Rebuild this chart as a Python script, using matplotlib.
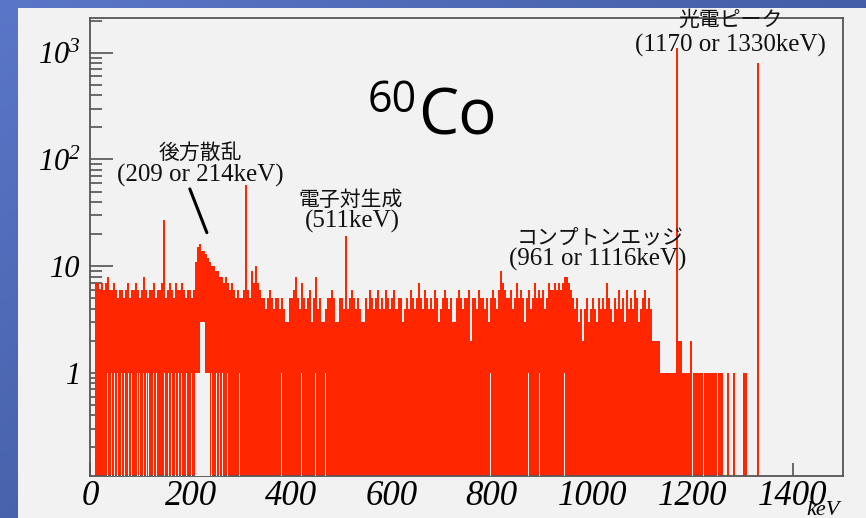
import numpy as np
import matplotlib
matplotlib.use('Agg')
import matplotlib.pyplot as plt
from matplotlib.patches import Rectangle
from matplotlib.ticker import LogLocator, NullFormatter, NullLocator

plt.rcParams['mathtext.fontset'] = 'custom'
plt.rcParams['mathtext.rm'] = 'Liberation Serif:italic'
plt.rcParams['mathtext.it'] = 'Liberation Serif:italic'

BIN_WIDTH = 4  # keV per bin

# counts per 4 keV bin, 0 - 208 keV
counts_low = [0, 0, 7, 7, 6, 7, 6, 7, 8, 6,
              6, 7, 6, 5, 6, 6, 5, 6, 7, 5,
              6, 6, 7, 6, 5, 6, 8, 6, 5, 6,
              6, 7, 5, 6, 6, 7, 27, 5, 6, 7,
              6, 5, 7, 6, 6, 7, 6, 5, 6, 6,
              5, 6]
# 208 - 300 keV (backscatter bump)
counts_backscatter = [11, 15, 16, 14, 14, 13, 12, 11, 10, 10,
                      9, 9, 8, 8, 7, 8, 7, 6, 7, 6,
                      5, 6, 5]
# 300 - 940 keV (Compton continuum)
counts_continuum = [5, 6, 58, 6, 5, 9, 7, 10, 7, 6,
                    5, 5, 4, 5, 6, 5, 4, 5, 5, 4,
                    5, 4, 3, 3, 5, 5, 6, 8, 5, 4,
                    7, 5, 4, 5, 6, 3, 5, 8, 4, 5,
                    3, 3, 4, 5, 5, 6, 5, 3, 3, 5,
                    5, 4, 19, 4, 5, 6, 5, 4, 5, 4,
                    3, 3, 5, 4, 6, 5, 4, 5, 6, 4,
                    5, 4, 6, 5, 4, 5, 6, 4, 5, 5,
                    3, 4, 5, 4, 6, 5, 4, 5, 7, 5,
                    4, 6, 5, 4, 5, 4, 6, 5, 3, 4,
                    5, 6, 5, 4, 5, 3, 3, 5, 6, 5,
                    4, 5, 5, 6, 2, 5, 5, 4, 6, 5,
                    5, 4, 5, 3, 5, 6, 5, 4, 6, 9,
                    7, 6, 5, 5, 6, 4, 5, 7, 5, 6,
                    5, 3, 5, 6, 4, 5, 7, 5, 6, 5,
                    6, 4, 5, 7, 6, 6, 7, 6, 7, 6]
# 940 - 1136 keV (Compton edge)
counts_edge = [7, 8, 8, 7, 6, 5, 4, 5, 3, 4,
               2, 4, 5, 3, 4, 5, 4, 3, 5, 4,
               5, 4, 7, 5, 4, 3, 5, 4, 6, 4,
               5, 3, 6, 4, 5, 4, 6, 5, 3, 4,
               5, 6, 4, 5, 4, 2, 2, 2, 2]
# 1136 - 1336 keV (photopeaks)
counts_tail = [1, 1, 1, 1, 1, 1, 1, 1, 1110, 2,
               2, 1, 1, 1, 1, 2, 1, 1, 1, 1,
               1, 1, 1, 1, 1, 1, 1, 1, 1, 1,
               1, 0, 0, 1, 0, 0, 1, 0, 0, 0,
               0, 1, 1, 0, 0, 0, 0, 0, 800, 0]

# single empty channels (keV)
empty_keV = [15, 25, 34, 42, 47, 54, 62, 68, 76, 82, 93, 98, 105, 111, 116,
             125, 131, 148, 155, 161, 169, 175, 181, 191, 201,
             242, 251, 258, 264, 273, 288, 297, 306,
             381, 421, 449, 468, 798, 873, 895, 940, 945,
             1191, 1200, 1207, 1215, 1222, 1227, 1233, 1243, 1249]
# empty stretch under the backscatter bump
notch_lo = [209, 218]
notch_hi = [238, 229]
notch_top = [1, 3]

x_ticks = [0, 200, 400, 600, 800, 1000, 1200, 1400]
y_ticks = [1, 10, 100, 1000]
y_labels = ['1', '10', r'$\mathrm{10^{2}}$', r'$\mathrm{10^{3}}$']

RED = '#ff2600'
PANEL = '#f2f2f2'

spectrum = np.array(counts_low + counts_backscatter + counts_continuum
                    + counts_edge + counts_tail)
edges = np.arange(len(spectrum) + 1) * BIN_WIDTH

fig = plt.figure(figsize=(8.66, 5.18), dpi=100)

# slide background
bg = fig.add_axes([0, 0, 1, 1], zorder=-5)
gx, gy = np.meshgrid(np.linspace(0, 1, 256), np.linspace(0, 1, 256))
t = 0.55 * gx + 0.45 * gy
c0 = np.array([90, 118, 200]) / 255
c1 = np.array([52, 76, 138]) / 255
bg.imshow(c0 + (c1 - c0) * t[..., None], aspect='auto', extent=[0, 1, 0, 1])
bg.add_patch(Rectangle((0.0211, 0), 0.98, 0.984, transform=bg.transAxes,
                       facecolor=PANEL, edgecolor='none'))
bg.set_xlim(0, 1)
bg.set_ylim(0, 1)
bg.axis('off')

ax = fig.add_axes([0.1045, 0.0811, 0.8689, 0.8842])
ax.set_facecolor(PANEL)
ax.set_yscale('log')
ax.set_xlim(0, 1500)
ax.set_ylim(0.108, 2120)

ax.stairs(spectrum, edges, fill=True, color=RED, baseline=0, zorder=2)
ax.bar(empty_keV, 1, width=1.8, color=PANEL, linewidth=0, zorder=3)
ax.bar(notch_lo, notch_top, width=np.subtract(notch_hi, notch_lo),
       align='edge', color=PANEL, linewidth=0, zorder=3)

for s in ax.spines.values():
    s.set_color('#555555')
    s.set_linewidth(1.3)

ax.set_xticks(x_ticks, [str(v) for v in x_ticks],
              fontfamily='Liberation Serif', fontstyle='italic')
ax.xaxis.set_minor_locator(NullLocator())
ax.set_yticks(y_ticks, y_labels, fontfamily='Liberation Serif', fontstyle='italic')
ax.yaxis.set_minor_locator(LogLocator(base=10, subs=np.arange(2, 10)))
ax.yaxis.set_minor_formatter(NullFormatter())
ax.tick_params(which='both', direction='in', top=False, right=False,
               color='#444444', width=1.1)
ax.tick_params(axis='x', which='major', length=9.5, pad=3, labelsize=25)
ax.tick_params(axis='y', which='major', length=16.5, pad=7, labelsize=22)
ax.tick_params(axis='y', which='minor', length=8.5)

ax.set_xlabel('keV', fontfamily='Liberation Serif', fontstyle='italic',
              fontsize=16, ha='right')
ax.xaxis.set_label_coords(0.996, -0.055)

jp = ['Noto Sans CJK JP']
serif = ['Liberation Serif']
notes = [
    ('後方散乱', 0.1455, 0.705, jp, 15),
    ('(209 or 214keV)', 0.1455, 0.657, serif, 18),
    ('電子対生成', 0.3462, 0.603, jp, 15),
    ('(511keV)', 0.3475, 0.555, serif, 18),
    ('コンプトンエッジ', 0.6771, 0.520, jp, 15),
    ('(961 or 1116keV)', 0.6744, 0.472, serif, 18),
    ('光電ピーク', 0.8511, 0.996, jp, 15),
    ('(1170 or 1330keV)', 0.8511, 0.941, serif, 18),
]
for text, x, y, fam, size in notes:
    ax.text(x, y, text, transform=ax.transAxes, ha='center', va='center',
            family=fam, fontsize=size, color='#111111', zorder=5, clip_on=False)

ax.annotate('', xy=(234, 19.5), xytext=(196, 56),
            arrowprops=dict(arrowstyle='-', color='black', lw=2.2), zorder=5)

fig.text(0.4249, 0.7838, '60', family='Open Sans', fontsize=31,
         ha='left', va='baseline', color='black')
fig.text(0.4830, 0.7394, 'Co', family='Open Sans', fontsize=46,
         ha='left', va='baseline', color='black')

fig.savefig('out.png', dpi=100)
